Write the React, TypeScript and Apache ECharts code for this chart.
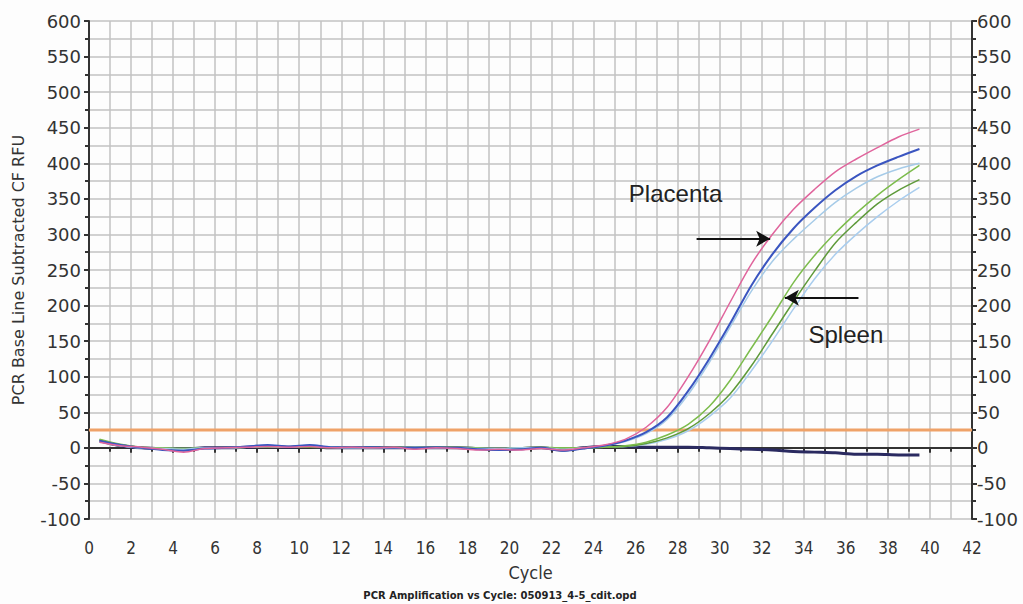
import React, { useEffect, useRef } from "react";
import * as echarts from "echarts";

const CYCLES = [0.5, 1.5, 2.5, 3.5, 4.5, 5.5, 6.5, 7.5, 8.5, 9.5, 10.5, 11.5, 12.5, 13.5, 14.5, 15.5, 16.5, 17.5, 18.5, 19.5, 20.5, 21.5, 22.5, 23.5, 24.5, 25.5, 26.5, 27.5, 28.5, 29.5, 30.5, 31.5, 32.5, 33.5, 34.5, 35.5, 36.5, 37.5, 38.5, 39.5];

const PLACENTA_1 = [8, 3, 1, -2, -6, -1, 0, 1, 2, 1, 2, 0, 1, 0, 1, -2, 0, -1, -3, -2, -3, -1, -3, 0, 4, 12, 29, 57, 100, 150, 205, 258, 300, 335, 363, 388, 406, 422, 437, 448];
const PLACENTA_2 = [10, 4, 0, -3, -4, -1, 0, 2, 4, 2, 4, 1, 1, 1, 0, 0, 1, 0, -2, -3, -2, 0, -4, -1, 3, 10, 22, 43, 80, 125, 175, 228, 272, 308, 337, 362, 382, 397, 409, 420];
const PLACENTA_3 = [9, 3, 0, -1, -2, 0, 0, 1, 2, 1, 3, 1, 0, 0, 0, 1, 0, 0, -1, -1, 0, 0, -2, 0, 3, 9, 20, 40, 75, 120, 170, 220, 262, 293, 320, 345, 365, 381, 392, 400];
const SPLEEN_1 = [12, 5, 1, 0, -1, 0, 0, 1, 2, 1, 2, 1, 1, 0, 1, 1, 1, 1, 0, -1, 0, 1, 0, 0, 1, 3, 8, 18, 33, 58, 95, 140, 185, 232, 270, 302, 330, 355, 377, 397];
const SPLEEN_2 = [11, 4, 1, 0, -1, 0, 0, 1, 1, 1, 1, 0, 1, 1, 0, 0, 1, 0, -1, -1, -1, 0, -1, 0, 1, 2, 6, 14, 27, 48, 76, 115, 160, 205, 248, 288, 317, 343, 362, 377];
const SPLEEN_3 = [9, 3, 0, 0, -1, 0, 0, 1, 1, 1, 1, 1, 0, 0, 0, 0, 0, 0, -1, -1, 0, 0, -1, 0, 1, 2, 5, 12, 24, 44, 70, 108, 150, 195, 237, 272, 300, 325, 347, 366];
const NEGATIVE = [10, 3, 0, -1, -2, 0, 0, 1, 2, 1, 2, 0, 0, 0, 0, 0, 0, 0, -1, -2, -1, 0, -3, 0, 2, 2, 1, 1, 1, 0, -1, -2, -3, -5, -6, -7, -9, -9, -10, -10];

const THRESHOLD = 25;
const X_RANGE = [0, 42];
const Y_RANGE = [-100, 600];

const SERIES_DEFS = [
  { name: "Negative", values: NEGATIVE, color: "#2a2a60", width: 3 },
  { name: "Spleen 3", values: SPLEEN_3, color: "#a9cdee", width: 1.5 },
  { name: "Spleen 2", values: SPLEEN_2, color: "#5e9a3a", width: 1.5 },
  { name: "Spleen 1", values: SPLEEN_1, color: "#7cbc4c", width: 1.5 },
  { name: "Placenta 3", values: PLACENTA_3, color: "#a6cbe8", width: 1.5 },
  { name: "Placenta 2", values: PLACENTA_2, color: "#3a55c0", width: 2 },
  { name: "Placenta 1", values: PLACENTA_1, color: "#e0649c", width: 1.5 },
];

const ANNOTATIONS = [
  { name: "Placenta", coord: [27.9, 358] },
  { name: "Spleen", coord: [36.0, 160] },
];
const ARROWS = [
  { from: [28.9, 294], to: [32.4, 294] },
  { from: [36.6, 211], to: [33.1, 211] },
];

const NARROW = '"DejaVu Sans Condensed", "Liberation Sans", sans-serif';

export default function App() {
  const ref = useRef<HTMLDivElement>(null);
  useEffect(() => {
    if (!ref.current) return;
    const chart = echarts.init(ref.current, undefined, { renderer: "svg" });
    const gridLine = { show: true, lineStyle: { color: "#c2c2c2", width: 1.5 } };
    const axisLine = { show: true, lineStyle: { color: "#333", width: 2 } };
    const yLabel = { fontFamily: "DejaVu Sans", fontSize: 18, color: "#333" };
    const yAxisBase = {
      type: "value",
      min: Y_RANGE[0],
      max: Y_RANGE[1],
      interval: 50,
      axisLine,
      axisTick: { show: true, length: 5, lineStyle: { color: "#333", width: 2 } },
      minorTick: { show: true, splitNumber: 2, length: 4, lineStyle: { color: "#333", width: 2 } },
    };
    const lineSeries = SERIES_DEFS.map((s) => ({
      name: s.name,
      type: "line",
      data: CYCLES.map((c, i) => [c, s.values[i]]),
      showSymbol: false,
      smooth: 0.3,
      lineStyle: { color: s.color, width: s.width },
      itemStyle: { color: s.color },
      silent: true,
      z: 3,
    }));
    chart.setOption({
      animation: false,
      backgroundColor: "#fdfdfd",
      grid: { left: 89, right: 51, top: 21, bottom: 85 },
      xAxis: {
        type: "value",
        min: X_RANGE[0],
        max: X_RANGE[1],
        interval: 2,
        name: "Cycle",
        nameLocation: "middle",
        nameGap: 44,
        nameTextStyle: { fontFamily: NARROW, fontSize: 18, color: "#333" },
        axisLine,
        axisTick: { show: true, length: 5, lineStyle: { color: "#333", width: 2 } },
        minorTick: { show: true, splitNumber: 2, length: 4, lineStyle: { color: "#333", width: 2 } },
        axisLabel: { fontFamily: NARROW, fontSize: 17, color: "#333", margin: 20 },
        splitLine: gridLine,
        minorSplitLine: gridLine,
      },
      yAxis: [
        {
          ...yAxisBase,
          position: "left",
          name: "PCR Base Line Subtracted CF RFU",
          nameLocation: "middle",
          nameGap: 63,
          nameTextStyle: { fontFamily: "DejaVu Sans", fontSize: 16, color: "#333" },
          axisLabel: { ...yLabel, margin: 8 },
          splitLine: gridLine,
          minorSplitLine: gridLine,
        },
        {
          ...yAxisBase,
          position: "right",
          axisLabel: { ...yLabel, margin: 5 },
          splitLine: { show: false },
          minorSplitLine: { show: false },
        },
      ],
      series: [
        ...lineSeries,
        {
          name: "Threshold",
          type: "line",
          data: [
            [X_RANGE[0], THRESHOLD],
            [X_RANGE[1], THRESHOLD],
          ],
          showSymbol: false,
          lineStyle: { color: "#efa268", width: 3 },
          silent: true,
          z: 2,
          markLine: {
            silent: true,
            symbol: ["none", "arrow"],
            symbolSize: [12, 14],
            label: { show: false },
            lineStyle: { color: "#111", width: 2, type: "solid" },
            data: ARROWS.map((a) => [{ coord: a.from }, { coord: a.to }]),
          },
          markPoint: {
            silent: true,
            symbol: "circle",
            symbolSize: 0,
            label: {
              show: true,
              formatter: (p: any) => p.name,
              fontFamily: "Liberation Sans",
              fontSize: 24,
              color: "#222",
            },
            data: ANNOTATIONS.map((a) => ({ name: a.name, coord: a.coord })),
          },
        },
      ],
      graphic: [
        {
          type: "text",
          x: 500,
          y: 595,
          style: {
            text: "PCR Amplification vs Cycle: 050913_4-5_cdit.opd",
            font: 'bold 10px "DejaVu Sans"',
            fill: "#222",
            textAlign: "center",
            textVerticalAlign: "middle",
          },
        },
      ],
    });
    return () => chart.dispose();
  }, []);
  return (
    <div
      ref={ref}
      style={{ position: "fixed", left: 0, top: 0, width: 1023, height: 604 }}
    />
  );
}
